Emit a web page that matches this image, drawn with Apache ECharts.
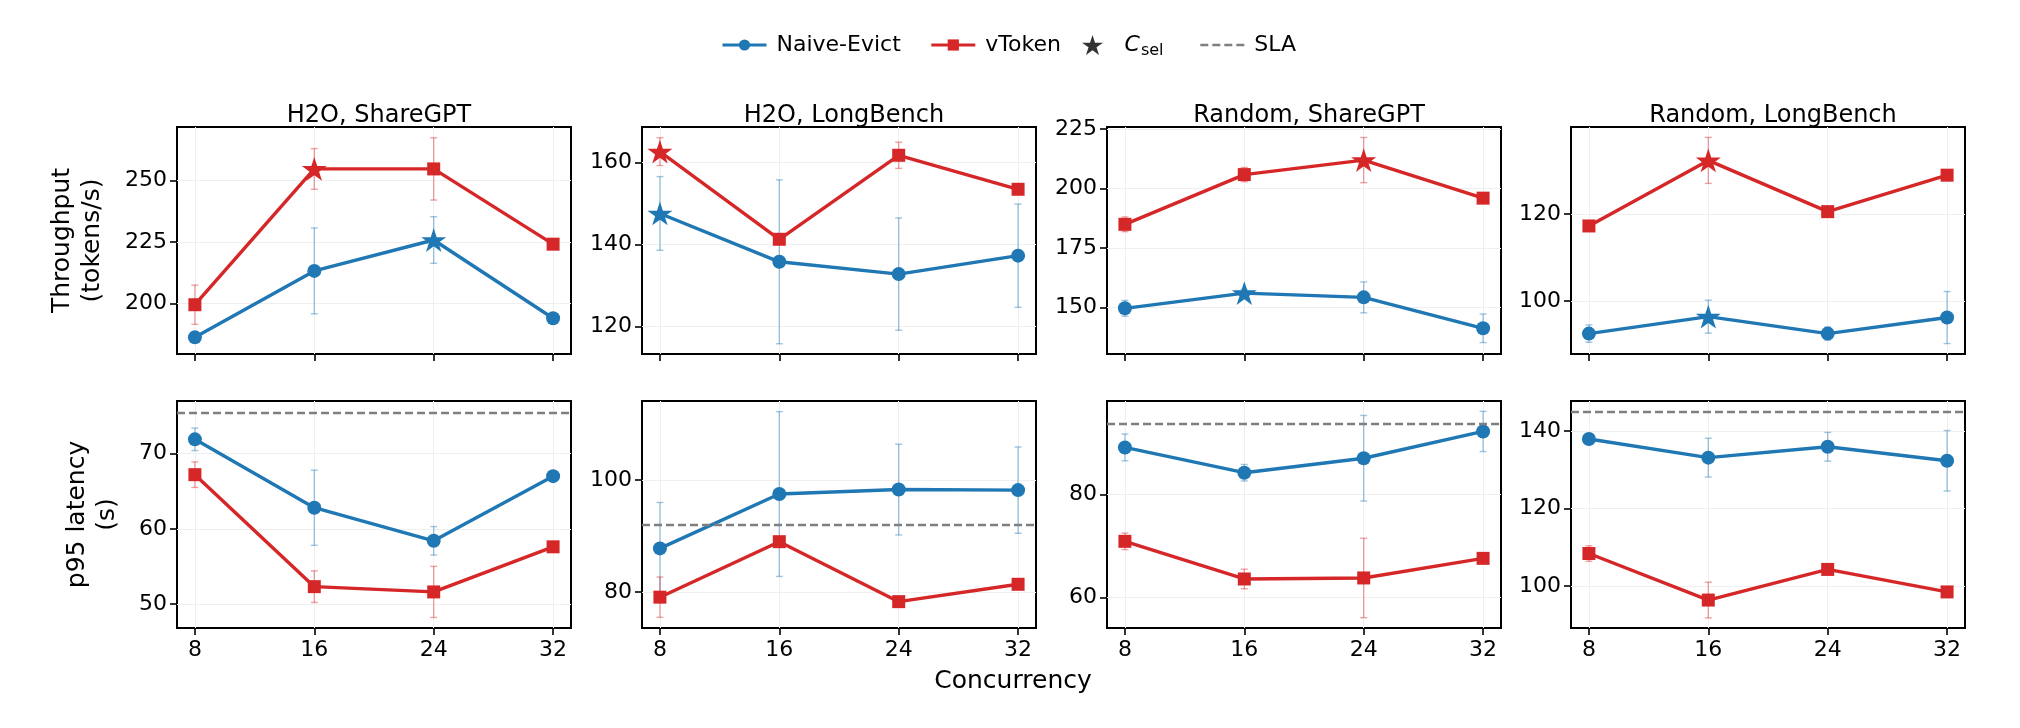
<!DOCTYPE html>
<html>
<head>
<meta charset="utf-8">
<script src="https://cdn.jsdelivr.net/npm/echarts@6/dist/echarts.min.js"></script>
<style>
html,body{margin:0;padding:0;background:#ffffff;}
#chart{width:2020px;height:728px;}
</style>
</head>
<body>
<div id="chart"></div>
<script>
// ---------------- data ----------------
const concurrency = [8, 16, 24, 32];
const panelTitles = ['H2O, ShareGPT', 'H2O, LongBench', 'Random, ShareGPT', 'Random, LongBench'];

// Throughput (tokens/s)
const naiveThr    = [[186.1, 213.2, 225.8, 193.9], [147.6, 135.8, 132.8, 137.3], [149.6, 156.0, 154.2, 141.2], [92.5, 96.4, 92.5, 96.2]];
const naiveThrErr = [[1.8, 17.5, 9.5, 1.5], [9.0, 20.0, 13.7, 12.6], [3.3, 1.5, 6.5, 6.0], [2.0, 3.8, 1.5, 6.0]];
const vtokThr     = [[199.4, 254.8, 254.8, 224.1], [162.7, 141.3, 161.8, 153.5], [184.9, 205.8, 211.9, 195.9], [117.3, 132.4, 120.6, 129.0]];
const vtokThrErr  = [[8.0, 8.3, 12.7, 1.5], [3.4, 1.0, 3.2, 1.0], [3.1, 3.0, 9.5, 1.0], [1.0, 5.3, 1.0, 1.0]];
// index of the selected concurrency (C_sel) per panel
const cselNaive = [2, 0, 1, 1];
const cselVtok  = [1, 0, 2, 1];

// p95 latency (s)
const naiveLat    = [[71.9, 62.8, 58.4, 67.0], [87.8, 97.5, 98.3, 98.2], [89.1, 84.2, 87.0, 92.2], [137.9, 133.1, 135.9, 132.3]];
const naiveLatErr = [[1.5, 5.0, 1.9, 0.6], [8.2, 14.7, 8.1, 7.7], [2.6, 1.6, 8.3, 3.9], [1.0, 5.0, 3.7, 7.8]];
const vtokLat     = [[67.2, 52.3, 51.6, 57.6], [79.1, 89.0, 78.3, 81.4], [70.9, 63.6, 63.8, 67.6], [108.4, 96.4, 104.3, 98.5]];
const vtokLatErr  = [[1.7, 2.1, 3.4, 0.5], [3.6, 0.8, 0.5, 0.5], [1.6, 1.9, 7.7, 0.5], [2.0, 4.6, 1.3, 0.8]];
const slaLat      = [75.5, 92.0, 93.65, 144.9];

// axis ranges and tick labels
const xRange   = [6.8, 33.2];
const yRangeThr = [[179.3, 271.9], [113.3, 168.7], [130.4, 225.8], [87.8, 140.1]];
const yTicksThr = [[200, 225, 250], [120, 140, 160], [150, 175, 200, 225], [100, 120]];
const yRangeLat = [[46.8, 77.0], [73.6, 114.1], [54.1, 98.1], [89.2, 147.7]];
const yTicksLat = [[50, 60, 70], [80, 100], [60, 80], [100, 120, 140]];

// ---------------- style / layout ----------------
const FONT = 'DejaVu Sans';
const BLUE = '#1f77b4', RED = '#d62728', GREY = '#7f7f7f';
const BLUE_ERR = 'rgba(31,119,180,0.42)', RED_ERR = 'rgba(214,39,40,0.42)';
const STAR = 'path://M0,-1L0.2245,-0.309L0.9511,-0.309L0.3633,0.118L0.5878,0.809L0,0.382L-0.5878,0.809L-0.3633,0.118L-0.9511,-0.309L-0.2245,-0.309Z';
const colLefts = [177, 642, 1107, 1571];
const gridW = 394, gridH = 227;
const rowTops = [127, 401];
const LINE_W = 3.4;

const grids = [], xAxes = [], yAxes = [], series = [];
const titles = [];

function errRender(color) {
  return function (params, api) {
    const x = api.value(0), lo = api.value(1), hi = api.value(2);
    const p1 = api.coord([x, lo]), p2 = api.coord([x, hi]);
    const cw = 3.5;
    const st = { stroke: color, lineWidth: 1.4 };
    return {
      type: 'group',
      children: [
        { type: 'line', shape: { x1: p1[0], y1: p1[1], x2: p2[0], y2: p2[1] }, style: st },
        { type: 'line', shape: { x1: p1[0] - cw, y1: p1[1], x2: p1[0] + cw, y2: p1[1] }, style: st },
        { type: 'line', shape: { x1: p2[0] - cw, y1: p2[1], x2: p2[0] + cw, y2: p2[1] }, style: st }
      ]
    };
  };
}
function errData(vals, errs) {
  return vals.map((v, i) => [concurrency[i], v - errs[i], v + errs[i]]);
}
function lineData(vals, starIdx) {
  return vals.map((v, i) => (i === starIdx)
    ? { value: [concurrency[i], v], symbol: STAR, symbolSize: 25 }
    : [concurrency[i], v]);
}

for (let row = 0; row < 2; row++) {
  for (let c = 0; c < 4; c++) {
    const k = row * 4 + c;
    grids.push({
      left: colLefts[c], top: rowTops[row], width: gridW, height: gridH,
      show: true, borderColor: '#000', borderWidth: 2, backgroundColor: 'transparent',
      containLabel: false, outerBoundsMode: 'none'
    });
    xAxes.push({
      type: 'value', gridIndex: k, min: xRange[0], max: xRange[1],
      axisLine: { show: false },
      axisTick: { show: true, length: 7, lineStyle: { color: '#000', width: 1.6 }, customValues: concurrency },
      axisLabel: { show: row === 1, customValues: concurrency, fontSize: 22, color: '#000', margin: 11, fontFamily: FONT },
      splitLine: { show: true, customValues: concurrency, lineStyle: { color: '#efefef', width: 1 } }
    });
    const yr = row === 0 ? yRangeThr[c] : yRangeLat[c];
    const yt = row === 0 ? yTicksThr[c] : yTicksLat[c];
    const ya = {
      type: 'value', gridIndex: k, min: yr[0], max: yr[1],
      axisLine: { show: false },
      axisTick: { show: true, length: 7, lineStyle: { color: '#000', width: 1.6 }, customValues: yt },
      axisLabel: { customValues: yt, fontSize: 22, color: '#000', margin: 10, fontFamily: FONT },
      splitLine: { show: true, customValues: yt, lineStyle: { color: '#efefef', width: 1 } }
    };
    if (c === 0) {
      ya.name = row === 0 ? 'Throughput\n(tokens/s)' : 'p95 latency\n(s)';
      ya.nameLocation = 'middle';
      ya.nameRotate = 90;
      ya.nameGap = row === 0 ? 70 : 55;
      ya.nameTextStyle = { fontSize: 25, lineHeight: 30, color: '#000', fontFamily: FONT };
    }
    yAxes.push(ya);

    if (row === 0) {
      titles.push({
        text: panelTitles[c], left: colLefts[c] + gridW / 2, top: 99, textAlign: 'center',
        textStyle: { fontSize: 24, fontWeight: 'normal', color: '#000', fontFamily: FONT }
      });
    }

    const nv = row === 0 ? naiveThr[c] : naiveLat[c];
    const ne = row === 0 ? naiveThrErr[c] : naiveLatErr[c];
    const vv = row === 0 ? vtokThr[c] : vtokLat[c];
    const ve = row === 0 ? vtokThrErr[c] : vtokLatErr[c];
    const ns = row === 0 ? cselNaive[c] : -1;
    const vs = row === 0 ? cselVtok[c] : -1;

    series.push({
      type: 'custom', name: 'err-naive', xAxisIndex: k, yAxisIndex: k, z: 2, silent: true,
      renderItem: errRender(BLUE_ERR), encode: { x: 0, y: [1, 2] }, data: errData(nv, ne)
    });
    series.push({
      type: 'custom', name: 'err-vtoken', xAxisIndex: k, yAxisIndex: k, z: 2, silent: true,
      renderItem: errRender(RED_ERR), encode: { x: 0, y: [1, 2] }, data: errData(vv, ve)
    });
    series.push({
      type: 'line', name: 'Naive-Evict', xAxisIndex: k, yAxisIndex: k, z: 3,
      symbol: 'circle', symbolSize: 14, symbolKeepAspect: true,
      lineStyle: { color: BLUE, width: LINE_W }, itemStyle: { color: BLUE },
      data: lineData(nv, ns)
    });
    series.push({
      type: 'line', name: 'vToken', xAxisIndex: k, yAxisIndex: k, z: 4,
      symbol: 'rect', symbolSize: 13, symbolKeepAspect: true,
      lineStyle: { color: RED, width: LINE_W }, itemStyle: { color: RED },
      data: lineData(vv, vs)
    });
    if (row === 1) {
      series.push({
        type: 'line', name: 'SLA', xAxisIndex: k, yAxisIndex: k, z: 1,
        symbol: 'none', data: [],
        lineStyle: { color: GREY, width: 2.4, type: [8, 4] }, itemStyle: { color: GREY },
        markLine: {
          silent: true, symbol: 'none', label: { show: false },
          lineStyle: { color: GREY, width: 2.4, type: [8, 4] },
          data: [{ yAxis: slaLat[c] }]
        }
      });
    }
  }
}
// legend-only series for the selected-concurrency star
series.push({
  type: 'scatter', name: 'C_sel', xAxisIndex: 0, yAxisIndex: 0, data: [],
  symbol: STAR, symbolKeepAspect: true, itemStyle: { color: '#000' }
});

titles.push({
  text: 'Concurrency', left: 1008, top: 664, textAlign: 'center',
  textStyle: { fontSize: 25, fontWeight: 'normal', color: '#000', fontFamily: FONT }
});

const legTxt = { fontSize: 22, color: '#000', fontFamily: FONT, padding: [0, 0, 0, 5] };
const option = {
  animation: false,
  backgroundColor: '#fff',
  title: titles,
  legend: [
    { data: ['Naive-Evict', 'vToken'], left: 721, top: 34, padding: 0, itemWidth: 44, itemHeight: 14, itemGap: 29,
      selectedMode: false, textStyle: legTxt, lineStyle: { width: 3 } },
    { data: ['C_sel'], left: 1082, top: 34, padding: 0, itemWidth: 44, itemHeight: 20, selectedMode: false,
      formatter: function () { return '{i|C}{s|sel}'; },
      textStyle: { fontSize: 22, color: '#000', fontFamily: FONT, padding: [0, 0, 0, 5],
        rich: { i: { fontSize: 22, fontStyle: 'italic', fontFamily: FONT, color: '#000' },
                s: { fontSize: 16, fontFamily: FONT, color: '#000', padding: [12, 0, 0, 1] } } } },
    { data: ['SLA'], left: 1199, top: 34, padding: 0, itemWidth: 44, itemHeight: 14,
      itemStyle: { opacity: 0 }, lineStyle: { width: 2.6 },
      selectedMode: false, textStyle: legTxt }
  ],
  grid: grids,
  xAxis: xAxes,
  yAxis: yAxes,
  series: series
};
const chart = echarts.init(document.getElementById('chart'), null, { renderer: 'canvas' });
chart.setOption(option);
</script>
</body>
</html>
